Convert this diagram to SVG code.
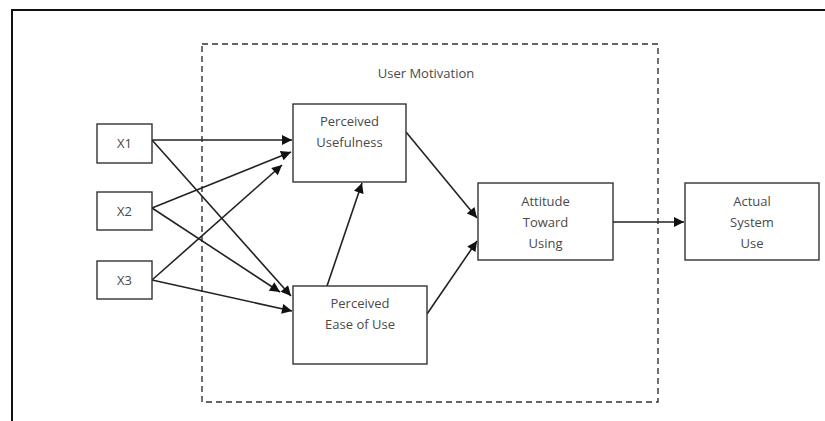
<svg xmlns="http://www.w3.org/2000/svg" width="825" height="421" viewBox="0 0 825 421">
<style>
.box{fill:#fff;stroke:#333;stroke-width:1.4}
.t{font-family:"Open Sans","Liberation Sans",sans-serif;font-size:13px;fill:#4a4a4a;text-anchor:middle}
.c{stroke:#222;stroke-width:1.6;fill:none;marker-end:url(#ah)}
</style>
<defs>
<marker id="ah" viewBox="0 0 10 10" refX="10" refY="5" markerWidth="11" markerHeight="10" markerUnits="userSpaceOnUse" orient="auto">
<path d="M0,0 L10,5 L0,10 z" fill="#111"/>
</marker>
</defs>
<rect width="825" height="421" fill="#fff"/>
<path d="M12,421 V10 H825" fill="none" stroke="#111" stroke-width="2"/>
<g id="user-motivation">
<rect x="202" y="44" width="456" height="358" fill="none" stroke="#333" stroke-width="1.4" stroke-dasharray="6,4"/>
<text class="t" x="426" y="78">User Motivation</text>
</g>
<g id="connectors">
<line class="c" x1="152" y1="140" x2="292" y2="140"/>
<line class="c" x1="152" y1="140" x2="291" y2="296"/>
<line class="c" x1="152" y1="208" x2="291" y2="152"/>
<line class="c" x1="152" y1="208" x2="280" y2="292"/>
<line class="c" x1="152" y1="280" x2="282" y2="165"/>
<line class="c" x1="152" y1="280" x2="292" y2="311"/>
<line class="c" x1="327" y1="286" x2="362" y2="183"/>
<line class="c" x1="406" y1="132" x2="477" y2="218"/>
<line class="c" x1="427" y1="314" x2="477" y2="241"/>
<line class="c" x1="613" y1="222" x2="684" y2="222"/>
</g>
<g id="x1"><rect class="box" x="97" y="124" width="55" height="39"/><text class="t" x="124.5" y="148">X1</text></g>
<g id="x2"><rect class="box" x="97" y="192" width="55" height="38"/><text class="t" x="124.5" y="216">X2</text></g>
<g id="x3"><rect class="box" x="97" y="261" width="55" height="38"/><text class="t" x="124.5" y="285">X3</text></g>
<g id="perceived-usefulness"><rect class="box" x="293" y="104" width="113" height="78"/><text class="t" x="349.5" y="126">Perceived</text><text class="t" x="349.5" y="147">Usefulness</text></g>
<g id="perceived-ease-of-use"><rect class="box" x="293" y="286" width="134" height="78"/><text class="t" x="360" y="308">Perceived</text><text class="t" x="360" y="329">Ease of Use</text></g>
<g id="attitude-toward-using"><rect class="box" x="478" y="183" width="135" height="77"/><text class="t" x="545.5" y="206">Attitude</text><text class="t" x="545.5" y="227">Toward</text><text class="t" x="545.5" y="248">Using</text></g>
<g id="actual-system-use"><rect class="box" x="685" y="183" width="134" height="77"/><text class="t" x="752" y="206">Actual</text><text class="t" x="752" y="227">System</text><text class="t" x="752" y="248">Use</text></g>
</svg>
